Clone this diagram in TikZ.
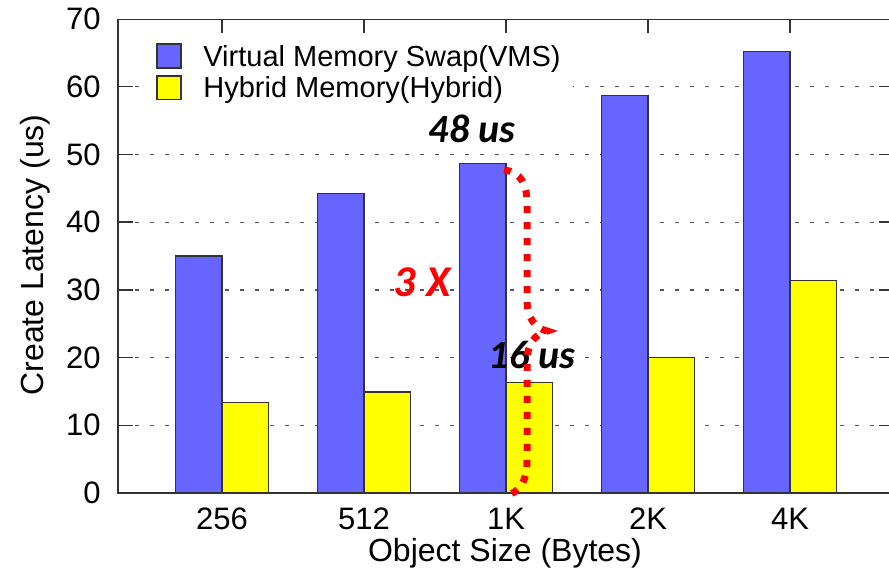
\documentclass[tikz,border=0pt]{standalone}
\usepackage{fontspec}
\setmainfont{Liberation Sans}
\newfontfamily\annofont{Carlito}
\definecolor{vmsblue}{HTML}{6666FF}
\definecolor{hybyellow}{HTML}{FFFF00}
\definecolor{framegray}{HTML}{333333}
\definecolor{gridgray}{HTML}{555555}
\begin{document}
\begin{tikzpicture}[x=0.5pt,y=-0.5pt,
  frameline/.style={draw=framegray,line width=0.75pt},
  gridline/.style={draw=gridgray,line width=0.65pt,dash pattern=on 2pt off 5.5pt},
  tickline/.style={draw=framegray,line width=0.7pt},
  barbox/.style={draw=framegray,line width=0.65pt},
  vmsbar/.style={barbox,fill=vmsblue},
  hybbar/.style={barbox,fill=hybyellow},
  ticklabel/.style={font=\fontsize{15.5}{18}\selectfont,text=black,inner sep=0pt},
  axislabel/.style={font=\fontsize{16}{19}\selectfont,text=black,inner sep=0pt},
  legendlabel/.style={font=\fontsize{14.5}{17}\selectfont,text=black,inner sep=0pt,anchor=base west},
  annolabel/.style={font=\annofont\bfseries\itshape\fontsize{20}{24}\selectfont,text=black,inner sep=0pt,anchor=base},
  bracepath/.style={draw=red,line width=3.5pt,dash pattern=on 3.5pt off 4.5pt}
]
\useasboundingbox (0,0) rectangle (889,572);

% horizontal grid lines (value v sits at y = 493 - 6.77 v)
\foreach \v in {10,20,30,40,50,60}{
  \draw[gridline] (135,{493-6.77*\v}) -- (875,{493-6.77*\v});
}

% white legend background hides the grid behind it
\fill[white] (141,36) rectangle (573,104);

% bars: VMS left of each category centre, Hybrid right of it
\foreach \c/\a/\b [count=\i] in {222/35.0/13.4, 364/44.2/14.9, 506/48.7/16.3, 648/58.7/20.0, 790/65.2/31.4}{
  \draw[vmsbar] ({\c-46.5},493) rectangle (\c,{493-6.77*\a});
  \draw[hybbar] (\c,493) rectangle ({\c+46.5},{493-6.77*\b});
}

% plot frame (right edge lies outside the page)
\draw[frameline] (889,19.5) -- (118,19.5) -- (118,493) -- (889,493);

% y ticks on both sides
\foreach \v in {10,20,30,40,50,60}{
  \draw[tickline] (118,{493-6.77*\v}) -- (133,{493-6.77*\v});
  \draw[tickline] (879,{493-6.77*\v}) -- (889,{493-6.77*\v});
}
% mirrored x ticks along the top
\foreach \c in {222,364,506,648,790}{
  \draw[tickline] (\c,19.5) -- (\c,33);
}

% y tick labels
\foreach \v in {0,10,20,30,40,50,60,70}{
  \node[ticklabel,anchor=east] (ytick\v) at (101,{493-6.77*\v}) {\v};
}
% x tick labels
\foreach \c/\t [count=\i] in {222/256, 364/512, 506/1K, 648/2K, 790/4K}{
  \node[ticklabel] (xtick\i) at (\c,519) {\t};
}

% axis titles
\node[axislabel,anchor=base] (xtitle) at (505,561) {Object Size (Bytes)};
\node[axislabel,anchor=base,rotate=90] (ytitle) at (43,255) {Create Latency (us)};

% legend
\draw[barbox,fill=vmsblue] (157,44) rectangle (181,68);
\draw[barbox,fill=hybyellow] (157,76) rectangle (181,99.5);
\node[legendlabel] (legvms) at (203,66.5) {Virtual Memory Swap(VMS)};
\node[legendlabel] (leghyb) at (203,98) {Hybrid Memory(Hybrid)};

% annotations
\node[annolabel] (topval) at (472,143) {48 us};
\node[annolabel] (lowval) at (532,368) {16 us};
\node[annolabel,text=red,font=\annofont\bfseries\itshape\fontsize{22}{26}\selectfont] (ratio) at (422,297) {3 X};

% dotted brace spanning the 1K VMS bar height
\coordinate (braceTop) at (504,170);
\coordinate (braceTip) at (547,331);
\coordinate (braceBot) at (504,496);
\draw[bracepath] (braceTop) .. controls (521,172) and (527,184) .. (527,204)
  -- (527,300) .. controls (527,318) and (535,328) .. (braceTip)
  .. controls (535,334) and (527,344) .. (527,362)
  -- (527,460) .. controls (527,481) and (520,493) .. (braceBot);
\end{tikzpicture}
\end{document}
